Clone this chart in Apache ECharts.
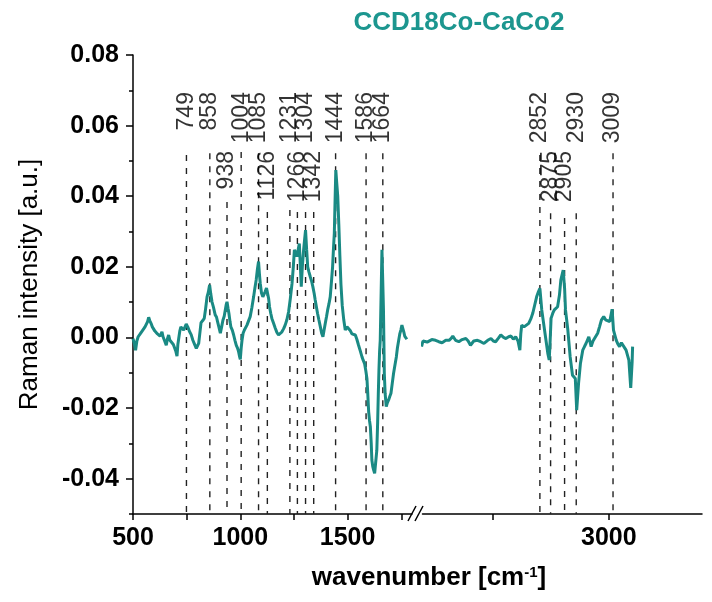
<!DOCTYPE html>
<html><head><meta charset="utf-8">
<script src="https://cdn.jsdelivr.net/npm/echarts@6/dist/echarts.min.js"></script>
<style>html,body{margin:0;padding:0;background:#fff}#c{width:712px;height:602px}</style>
</head><body><div id="c"></div>
<script>
// ---- data ----
const lowData = [[500,-0.0003],[506,-0.0017],[512,-0.0036],[518,-0.0010],[524,0.0002],[531,0.0008],[540,0.0016],[549,0.0021],[556,0.0030],[562,0.0028],[568,0.0045],[573,0.0057],[578,0.0048],[584,0.0040],[590,0.0030],[596,0.0026],[602,0.0018],[608,0.0021],[614,0.0010],[619,0.0012],[626,0.0004],[635,0.0016],[640,0.0002],[643,-0.0003],[649,-0.0012],[655,-0.0022],[660,-0.0005],[666,0.0007],[672,-0.0008],[681,-0.0012],[688,-0.0020],[694,-0.0022],[700,-0.0040],[705,-0.0053],[709,-0.0020],[713,-0.0003],[718,0.0018],[723,0.0030],[730,0.0025],[736,0.0021],[742,0.0026],[748,0.0038],[755,0.0030],[764,0.0016],[771,0.0008],[779,-0.0008],[786,-0.0018],[795,-0.0031],[800,-0.0026],[806,-0.0017],[812,0.0015],[817,0.0042],[825,0.0048],[832,0.0054],[838,0.0080],[845,0.0115],[851,0.0128],[857,0.0149],[862,0.0125],[868,0.0101],[875,0.0085],[883,0.0064],[889,0.0058],[894,0.0045],[900,0.0030],[907,0.0012],[913,0.0030],[919,0.0049],[925,0.0060],[930,0.0078],[934,0.0092],[938,0.0101],[943,0.0082],[947,0.0068],[952,0.0045],[956,0.0030],[963,0.0020],[969,0.0007],[975,-0.0008],[981,-0.0022],[987,-0.0030],[992,-0.0040],[997,-0.0055],[1000,-0.0062],[1004,-0.0030],[1008,-0.0008],[1013,0.0012],[1019,0.0021],[1025,0.0026],[1031,0.0035],[1038,0.0040],[1046,0.0059],[1054,0.0085],[1062,0.0115],[1068,0.0140],[1074,0.0163],[1080,0.0195],[1085,0.0215],[1089,0.0180],[1093,0.0153],[1099,0.0125],[1105,0.0115],[1111,0.0118],[1116,0.0130],[1122,0.0140],[1127,0.0144],[1132,0.0110],[1136,0.0087],[1142,0.0068],[1147,0.0054],[1155,0.0040],[1163,0.0026],[1170,0.0015],[1178,0.0007],[1186,0.0012],[1194,0.0016],[1202,0.0025],[1209,0.0035],[1217,0.0050],[1225,0.0073],[1233,0.0110],[1241,0.0153],[1247,0.0200],[1252,0.0248],[1258,0.0240],[1264,0.0229],[1270,0.0250],[1275,0.0266],[1280,0.0200],[1284,0.0144],[1289,0.0200],[1295,0.0248],[1300,0.0280],[1304,0.0304],[1309,0.0250],[1314,0.0200],[1320,0.0185],[1326,0.0172],[1332,0.0160],[1338,0.0144],[1344,0.0125],[1349,0.0106],[1355,0.0085],[1360,0.0068],[1366,0.0050],[1373,0.0030],[1379,0.0012],[1385,0.0002],[1390,0.0020],[1396,0.0040],[1402,0.0060],[1407,0.0078],[1413,0.0095],[1419,0.0115],[1425,0.0160],[1430,0.0200],[1434,0.0250],[1438,0.0295],[1442,0.0400],[1445,0.0474],[1449,0.0440],[1454,0.0400],[1459,0.0320],[1464,0.0230],[1469,0.0150],[1475,0.0090],[1482,0.0050],[1489,0.0021],[1497,0.0030],[1505,0.0026],[1512,0.0020],[1520,0.0010],[1528,0.0012],[1536,0.0007],[1543,-0.0005],[1551,-0.0022],[1559,-0.0038],[1567,-0.0055],[1573,-0.0065],[1579,-0.0074],[1585,-0.0095],[1590,-0.0116],[1594,-0.0160],[1598,-0.0210],[1602,-0.0235],[1606,-0.0253],[1610,-0.0300],[1613,-0.0347],[1617,-0.0365],[1621,-0.0375],[1626,-0.0385],[1632,-0.0385],[1636,-0.0320],[1640,-0.0239],[1643,-0.0160],[1646,-0.0092],[1649,-0.0040],[1652,-0.0008],[1656,0.0120],[1660,0.0248],[1664,0.0248],[1667,0.0080],[1671,-0.0102],[1675,-0.0160],[1680,-0.0196],[1685,-0.0185],[1691,-0.0177],[1696,-0.0168],[1702,-0.0158],[1708,-0.0130],[1714,-0.0102],[1720,-0.0080],[1727,-0.0055],[1732,-0.0030],[1738,-0.0008],[1743,0.0010],[1748,0.0021],[1753,0.0035],[1758,0.0030],[1762,0.0015],[1766,0.0004],[1772,0.0002],[1776,-0.0005]];

const highData = [[2598,-0.0026],[2601,-0.0010],[2605,-0.0008],[2610,-0.0013],[2614,-0.0012],[2620,-0.0006],[2628,-0.0008],[2635,-0.0012],[2642,-0.0015],[2650,-0.0008],[2657,-0.0008],[2662,-0.0002],[2665,0.0004],[2671,-0.0008],[2678,-0.0012],[2685,-0.0006],[2693,-0.0003],[2698,-0.0010],[2703,-0.0022],[2710,-0.0010],[2718,-0.0008],[2725,-0.0012],[2732,-0.0017],[2740,-0.0008],[2747,-0.0003],[2752,-0.0010],[2757,-0.0012],[2763,-0.0002],[2768,0.0007],[2774,0.0000],[2779,-0.0003],[2785,0.0002],[2790,0.0004],[2795,-0.0005],[2800,0.0002],[2805,-0.0010],[2809,-0.0036],[2811,0.0010],[2813,0.0035],[2818,0.0030],[2822,0.0026],[2828,0.0040],[2833,0.0054],[2837,0.0070],[2840,0.0087],[2845,0.0115],[2849,0.0130],[2852,0.0139],[2856,0.0078],[2860,0.0040],[2864,0.0002],[2869,-0.0045],[2872,-0.0064],[2874,-0.0010],[2876,0.0054],[2880,0.0070],[2883,0.0078],[2890,0.0087],[2894,0.0120],[2897,0.0163],[2902,0.0191],[2905,0.0140],[2907,0.0078],[2912,0.0021],[2917,-0.0055],[2922,-0.0107],[2928,-0.0116],[2931,-0.0206],[2935,-0.0130],[2939,-0.0074],[2944,-0.0036],[2948,-0.0025],[2951,-0.0017],[2957,0.0002],[2962,-0.0026],[2966,-0.0010],[2969,-0.0008],[2976,0.0012],[2980,0.0030],[2984,0.0049],[2989,0.0059],[2993,0.0050],[2996,0.0045],[3002,0.0045],[3007,0.0080],[3010,0.0021],[3016,-0.0008],[3020,-0.0020],[3023,-0.0026],[3027,-0.0015],[3030,-0.0017],[3037,-0.0036],[3043,-0.0064],[3047,-0.0143],[3050,-0.0070],[3051,-0.0026]];

const lowPeaks = [749, 858, 938, 1004, 1085, 1126, 1231, 1266, 1304, 1342, 1444, 1586, 1664];
const lowPeakLineTop = [0.0517, 0.0522, 0.0384, 0.0525, 0.0522, 0.0355, 0.0361, 0.0355, 0.0355, 0.0355, 0.0522, 0.0522, 0.0522];
const lowPeakRow = [0, 0, 1, 0, 0, 1, 0, 1, 0, 1, 0, 0, 0];
const highPeaks = [2852, 2875, 2905, 2930, 3009];
const highPeakLineTop = [0.0517, 0.0352, 0.0338, 0.0352, 0.0522];
const highPeakRow = [0, 1, 1, 0, 0];
const labelLevels = [0.0695, 0.0528];

const yMajorTicks = [-0.04, -0.02, 0, 0.02, 0.04, 0.06, 0.08];
const yMinorTicks = [-0.05, -0.03, -0.01, 0.01, 0.03, 0.05, 0.07];
const lowXTicks = [500, 750, 1000, 1250, 1500, 1750];
const lowXLabels = [500, 1000, 1500];
const highXTicks = [2750, 3000];
const highXLabels = [3000];

// ---- chart ----
const FONT = 'Liberation Sans, Arial, sans-serif';
const TEAL = '#1a8a84';
const axisLS = {color: '#000', width: 1.5};
const chart = echarts.init(document.getElementById('c'));

function xAxisDef(gi, min, max, ticks, labels) {
  return {
    gridIndex: gi, type: 'value', min: min, max: max,
    axisLine: {show: true, onZero: false, lineStyle: axisLS},
    axisTick: {show: true, inside: false, length: 6, customValues: ticks, lineStyle: axisLS},
    axisLabel: {customValues: labels, formatter: v => String(v), fontSize: 25, fontWeight: 'bold',
                color: '#000', margin: 12, fontFamily: FONT},
    splitLine: {show: false}
  };
}

function dashSeries(xi, yi, peaks, tops) {
  return {
    type: 'custom', xAxisIndex: xi, yAxisIndex: yi, silent: true, z: 1,
    data: peaks.map((p, i) => [p, tops[i]]),
    renderItem: function (params, api) {
      const a = api.coord([api.value(0), api.value(1)]);
      const b = api.coord([api.value(0), -0.05]);
      return {type: 'line', shape: {x1: a[0], y1: a[1], x2: b[0], y2: b[1]},
              style: {stroke: '#222', lineWidth: 1.4, lineDash: [6, 7]}};
    }
  };
}

function labelSeries(xi, yi, peaks, rows) {
  return {
    type: 'scatter', xAxisIndex: xi, yAxisIndex: yi, silent: true, z: 5,
    symbolSize: 1, itemStyle: {color: 'rgba(0,0,0,0)'},
    data: peaks.map((p, i) => [p, labelLevels[rows[i]]]),
    label: {show: true, position: 'inside', rotate: 90, align: 'right', verticalAlign: 'middle',
            formatter: p => String(p.value[0]), fontSize: 23, color: '#000', fontFamily: FONT}
  };
}

const option = {
  animation: false,
  backgroundColor: '#fff',
  textStyle: {fontFamily: FONT},
  grid: [
    {left: 133, top: 55, width: 279, height: 459},
    {left: 422.5, top: 55, width: 279.5, height: 459}
  ],
  xAxis: [
    xAxisDef(0, 500, 1800, lowXTicks, lowXLabels),
    xAxisDef(1, 2600, 3200, highXTicks, highXLabels)
  ],
  yAxis: [
    {gridIndex: 0, type: 'value', position: 'left', min: -0.05, max: 0.08,
     axisLine: {show: true, onZero: false, lineStyle: axisLS},
     axisTick: {show: true, inside: false, length: 7, customValues: yMajorTicks, lineStyle: axisLS},
     axisLabel: {customValues: yMajorTicks, formatter: v => v.toFixed(2), fontSize: 25, fontWeight: 'bold',
                 color: '#000', margin: 14, fontFamily: FONT},
     splitLine: {show: false},
     name: 'Raman intensity [a.u.]', nameLocation: 'middle', nameGap: 90,
     nameTextStyle: {fontSize: 26, color: '#000', fontFamily: FONT}},
    {gridIndex: 0, type: 'value', position: 'left', min: -0.05, max: 0.08,
     axisLine: {show: false},
     axisTick: {show: true, inside: false, length: 4, customValues: yMinorTicks, lineStyle: axisLS},
     axisLabel: {show: false}, splitLine: {show: false}},
    {gridIndex: 1, type: 'value', position: 'left', min: -0.05, max: 0.08, show: false}
  ],
  series: [
    dashSeries(0, 0, lowPeaks, lowPeakLineTop),
    dashSeries(1, 2, highPeaks, highPeakLineTop),
    {type: 'line', xAxisIndex: 0, yAxisIndex: 0, data: lowData, showSymbol: false, silent: true, z: 3,
     lineStyle: {color: TEAL, width: 3}},
    {type: 'line', xAxisIndex: 1, yAxisIndex: 2, data: highData, showSymbol: false, silent: true, z: 3,
     lineStyle: {color: TEAL, width: 3}},
    labelSeries(0, 0, lowPeaks, lowPeakRow),
    labelSeries(1, 2, highPeaks, highPeakRow)
  ],
  graphic: [
    {type: 'text', x: 459, y: 23, silent: true,
     style: {text: 'CCD18Co-CaCo2', fill: '#1c968f', font: 'bold 26px ' + FONT, align: 'center', verticalAlign: 'middle'}},
    {type: 'text', x: 429, y: 578, silent: true,
     style: {text: '{a|wavenumber [cm}{s|-1}{a|]}', align: 'center', verticalAlign: 'middle',
             rich: {a: {fontSize: 26, fontWeight: 'bold', fill: '#000', fontFamily: FONT},
                    s: {fontSize: 15, fontWeight: 'bold', fill: '#000', fontFamily: FONT, verticalAlign: 'top', padding: [0, 0, 10, 0]}}}},
    {type: 'line', silent: true, shape: {x1: 408, y1: 521, x2: 416, y2: 506}, style: {stroke: '#000', lineWidth: 1.5}},
    {type: 'line', silent: true, shape: {x1: 415, y1: 521, x2: 423, y2: 506}, style: {stroke: '#000', lineWidth: 1.5}}
  ]
};
chart.setOption(option);
</script>
</body></html>
